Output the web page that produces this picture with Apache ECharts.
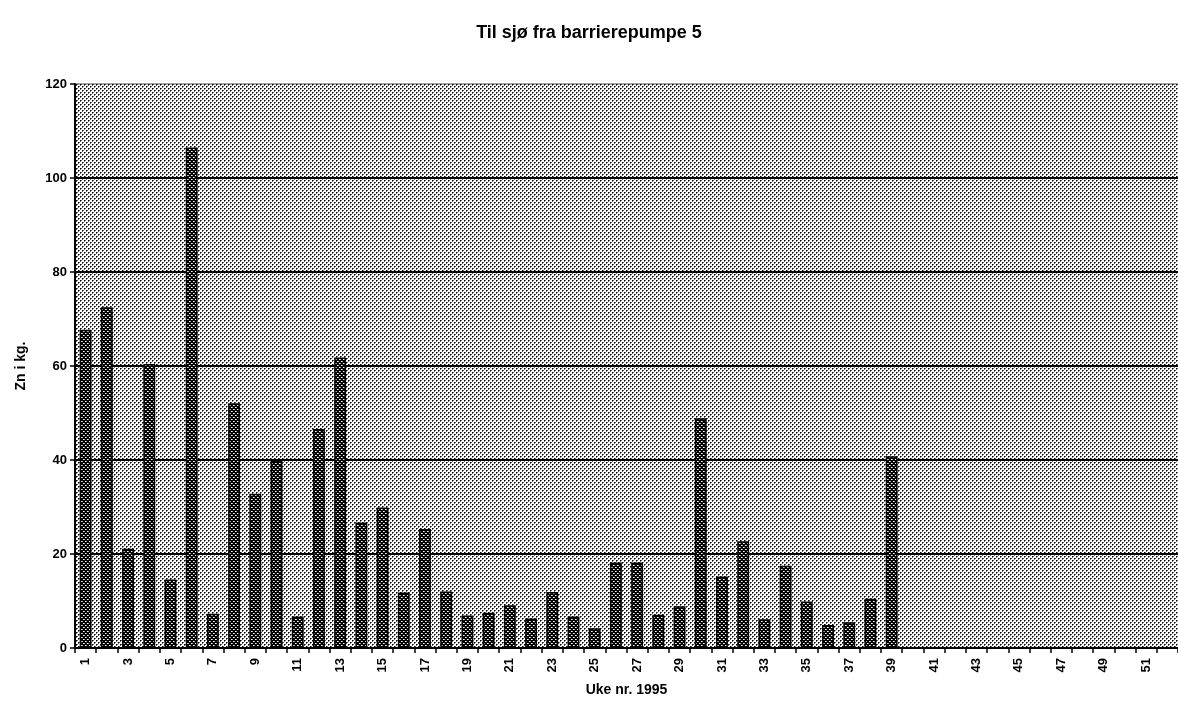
<!DOCTYPE html>
<html>
<head>
<meta charset="utf-8">
<script src="https://cdn.jsdelivr.net/npm/echarts@6/dist/echarts.min.js"></script>
<style>html,body{margin:0;padding:0;background:#fff}#c{width:1178px;height:703px}</style>
</head>
<body>
<div id="c"></div>
<script>
const titleText = 'Til sjø fra barrierepumpe 5';
const yAxisName = 'Zn i kg.';
const xAxisName = 'Uke nr. 1995';
const weeks = [];
for (let w = 1; w <= 52; w++) weeks.push(String(w));
const zincKg = [
  67.7, 72.5, 21.1, 60.4, 14.6, 106.5, 7.3, 52.1, 32.8, 39.9,
  6.7, 46.6, 61.8, 26.7, 29.9, 11.8, 25.3, 12.0, 6.9, 7.5,
  9.1, 6.3, 11.9, 6.7, 4.2, 18.2, 18.2, 7.1, 8.9, 48.9,
  15.2, 22.7, 6.1, 17.5, 9.9, 4.9, 5.5, 10.5, 40.8, null,
  null, null, null, null, null, null, null, null, null, null,
  null, null
];
const yTicks = { min: 0, max: 120, interval: 20 };

function makePattern(bg, dots) {
  const c = document.createElement('canvas');
  c.width = 4; c.height = 4;
  const ctx = c.getContext('2d');
  ctx.fillStyle = bg; ctx.fillRect(0, 0, 4, 4);
  dots.forEach(d => { ctx.fillStyle = d[2]; ctx.fillRect(d[0], d[1], 1, 1); });
  return { image: c, repeat: 'repeat' };
}
const bgPattern = makePattern('#ffffff', [
  [0,0,'#000'],[2,2,'#000'],[1,0,'#666'],[0,1,'#666'],[3,2,'#666'],[2,3,'#666']
]);
const barPattern = makePattern('#000000', [
  [1,1,'#fff'],[3,3,'#fff'],[2,1,'#aaa'],[0,3,'#aaa']
]);

const chart = echarts.init(document.getElementById('c'));
chart.setOption({
  animation: false,
  title: {
    text: titleText, left: 'center', top: 19,
    textStyle: { fontFamily: 'Liberation Sans', fontSize: 18, fontWeight: 'bold', color: '#000' }
  },
  grid: {
    left: 75, right: 0, top: 84, bottom: 55,
    outerBoundsMode: 'none', containLabel: false,
    show: true, backgroundColor: bgPattern, borderWidth: 0
  },
  xAxis: {
    type: 'category', data: weeks, boundaryGap: true,
    name: xAxisName, nameLocation: 'middle', nameGap: 35,
    nameTextStyle: { fontFamily: 'Liberation Sans', fontSize: 14, fontWeight: 'bold', color: '#000' },
    axisLine: { lineStyle: { color: '#000', width: 2 } },
    axisTick: { show: true, interval: 0, length: 5, lineStyle: { color: '#000', width: 1.5 } },
    axisLabel: { interval: 1, rotate: 90, margin: 10, fontFamily: 'Liberation Sans', fontSize: 13, fontWeight: 'bold', color: '#000' },
    splitLine: { show: false }
  },
  yAxis: {
    type: 'value', min: yTicks.min, max: yTicks.max, interval: yTicks.interval,
    name: yAxisName, nameLocation: 'middle', nameGap: 47,
    nameTextStyle: { fontFamily: 'Liberation Sans', fontSize: 14, fontWeight: 'bold', color: '#000' },
    axisLine: { show: true, lineStyle: { color: '#000', width: 2 } },
    axisTick: { show: true, length: 5, lineStyle: { color: '#000', width: 1.5 } },
    axisLabel: { margin: 8, fontFamily: 'Liberation Sans', fontSize: 13, fontWeight: 'bold', color: '#000' },
    splitLine: { show: true, lineStyle: { color: ['#000','#000','#000','#000','#000','#000','rgba(0,0,0,0.35)'], width: 2 } }
  },
  series: [{
    type: 'bar', data: zincKg, barWidth: '56%',
    itemStyle: { color: barPattern, borderColor: '#000', borderWidth: 1.5 }
  }]
});
</script>
</body>
</html>
